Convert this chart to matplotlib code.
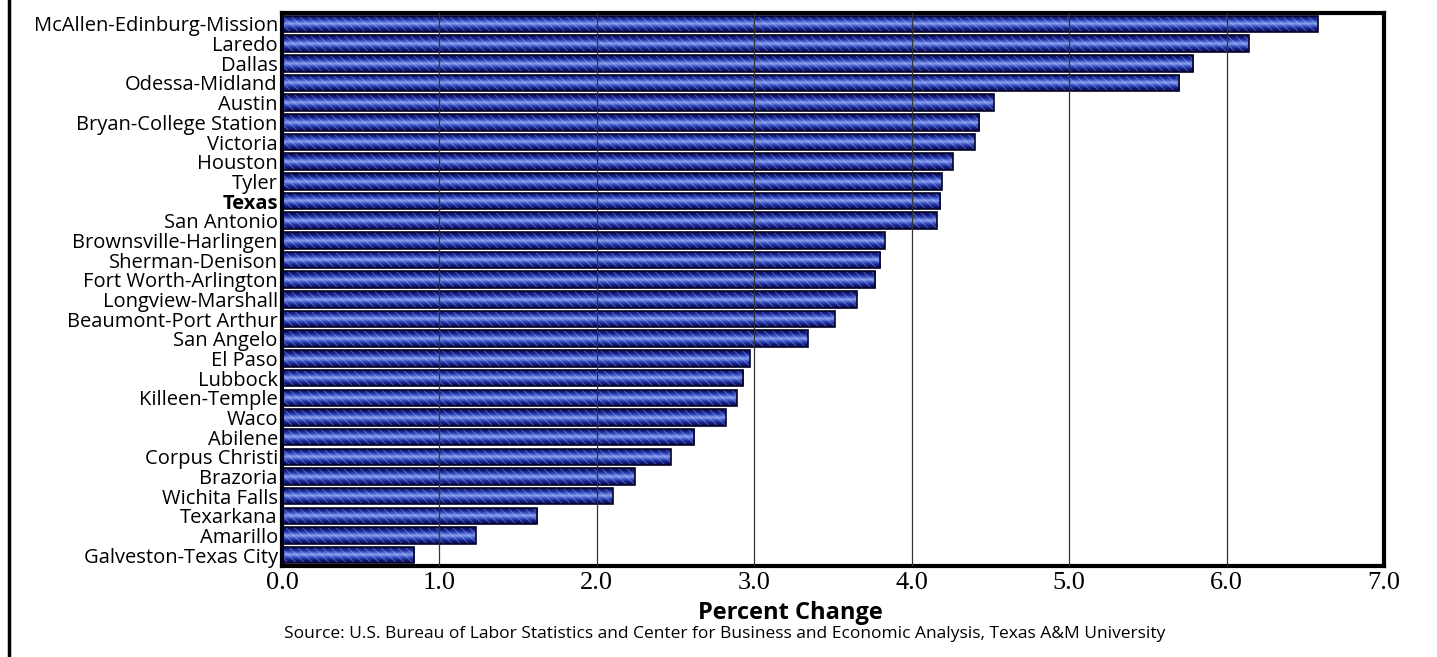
import matplotlib
matplotlib.use("Agg")
import matplotlib.pyplot as plt
import numpy as np
from matplotlib.lines import Line2D

# metro areas, top to bottom
labels = ['McAllen-Edinburg-Mission', 'Laredo', 'Dallas', 'Odessa-Midland', 'Austin',
          'Bryan-College Station', 'Victoria', 'Houston', 'Tyler', 'Texas', 'San Antonio',
          'Brownsville-Harlingen', 'Sherman-Denison', 'Fort Worth-Arlington',
          'Longview-Marshall', 'Beaumont-Port Arthur', 'San Angelo', 'El Paso', 'Lubbock',
          'Killeen-Temple', 'Waco', 'Abilene', 'Corpus Christi', 'Brazoria', 'Wichita Falls',
          'Texarkana', 'Amarillo', 'Galveston-Texas City']
pct_change = [6.58, 6.14, 5.79, 5.70, 4.52, 4.43, 4.40, 4.26, 4.19, 4.18, 4.16,
              3.83, 3.80, 3.77, 3.65, 3.51, 3.34, 2.97, 2.93, 2.89, 2.82, 2.62,
              2.47, 2.24, 2.10, 1.62, 1.23, 0.84]
xticks = [0, 1, 2, 3, 4, 5, 6, 7]
xticklabels = ['0.0', '1.0', '2.0', '3.0', '4.0', '5.0', '6.0', '7.0']

plt.rcParams['font.family'] = ['Open Sans', 'DejaVu Sans']
plt.rcParams['hatch.linewidth'] = 0.8

fig = plt.figure(figsize=(14.37, 6.57), dpi=100)
ax = fig.add_axes([0.1962, 0.1385, 0.7669, 0.8415])

y = np.arange(len(labels))
h = 0.84
bars = ax.barh(y, pct_change, height=h, color='none', edgecolor='#05052a', linewidth=1.2, zorder=3)

# tube-like shading inside each bar
grad = np.abs(np.linspace(-1, 1, 64))
cmap = matplotlib.colors.LinearSegmentedColormap.from_list(
    'tube', ['#8aa0ec', '#4862cf', '#1f30a2', '#0d1572', '#04043c'])
for rect in bars:
    x0, y0 = rect.get_x(), rect.get_y()
    w, hh = rect.get_width(), rect.get_height()
    im = ax.imshow(grad[:, None], cmap=cmap, vmin=0, vmax=1, aspect='auto',
                   extent=(x0, x0 + w, y0 + hh, y0), zorder=2, interpolation='bilinear')
    im.set_clip_path(rect)
    ax.add_patch(matplotlib.patches.Rectangle((x0, y0), w, hh, facecolor='none',
                                              edgecolor=(0.85, 0.9, 1.0, 0.3),
                                              hatch='\\\\\\\\', linewidth=0, zorder=2.5))

for gx in xticks[1:-1]:
    ax.axvline(gx, color='#333333', linewidth=0.9, zorder=4)

ax.set_xlim(0, 7)
ax.set_ylim(len(labels) - 0.45, -0.55)
ax.set_yticks(y)
ax.set_yticklabels(labels, fontsize=14.5)
for t in ax.get_yticklabels():
    if t.get_text() == 'Texas':
        t.set_fontweight('bold')
ax.set_xticks(xticks)
ax.set_xticklabels(xticklabels, fontsize=19, family='Liberation Serif')
ax.tick_params(axis='both', length=0)
ax.tick_params(axis='y', pad=3)
ax.tick_params(axis='x', pad=4)
for s in ax.spines.values():
    s.set_linewidth(3)

ax.set_xlabel('Percent Change', fontsize=17, fontweight='bold', labelpad=0)
ax.xaxis.set_label_coords(0.461, -0.064)
fig.text(0.504, 0.035, 'Source: U.S. Bureau of Labor Statistics and Center for Business and '
         'Economic Analysis, Texas A&M University', ha='center', va='center', fontsize=12.5)

fig.add_artist(Line2D([0.0065, 0.0065], [0, 1], color='black', linewidth=2.5,
                      transform=fig.transFigure))

plt.savefig('out.png', dpi=100)
